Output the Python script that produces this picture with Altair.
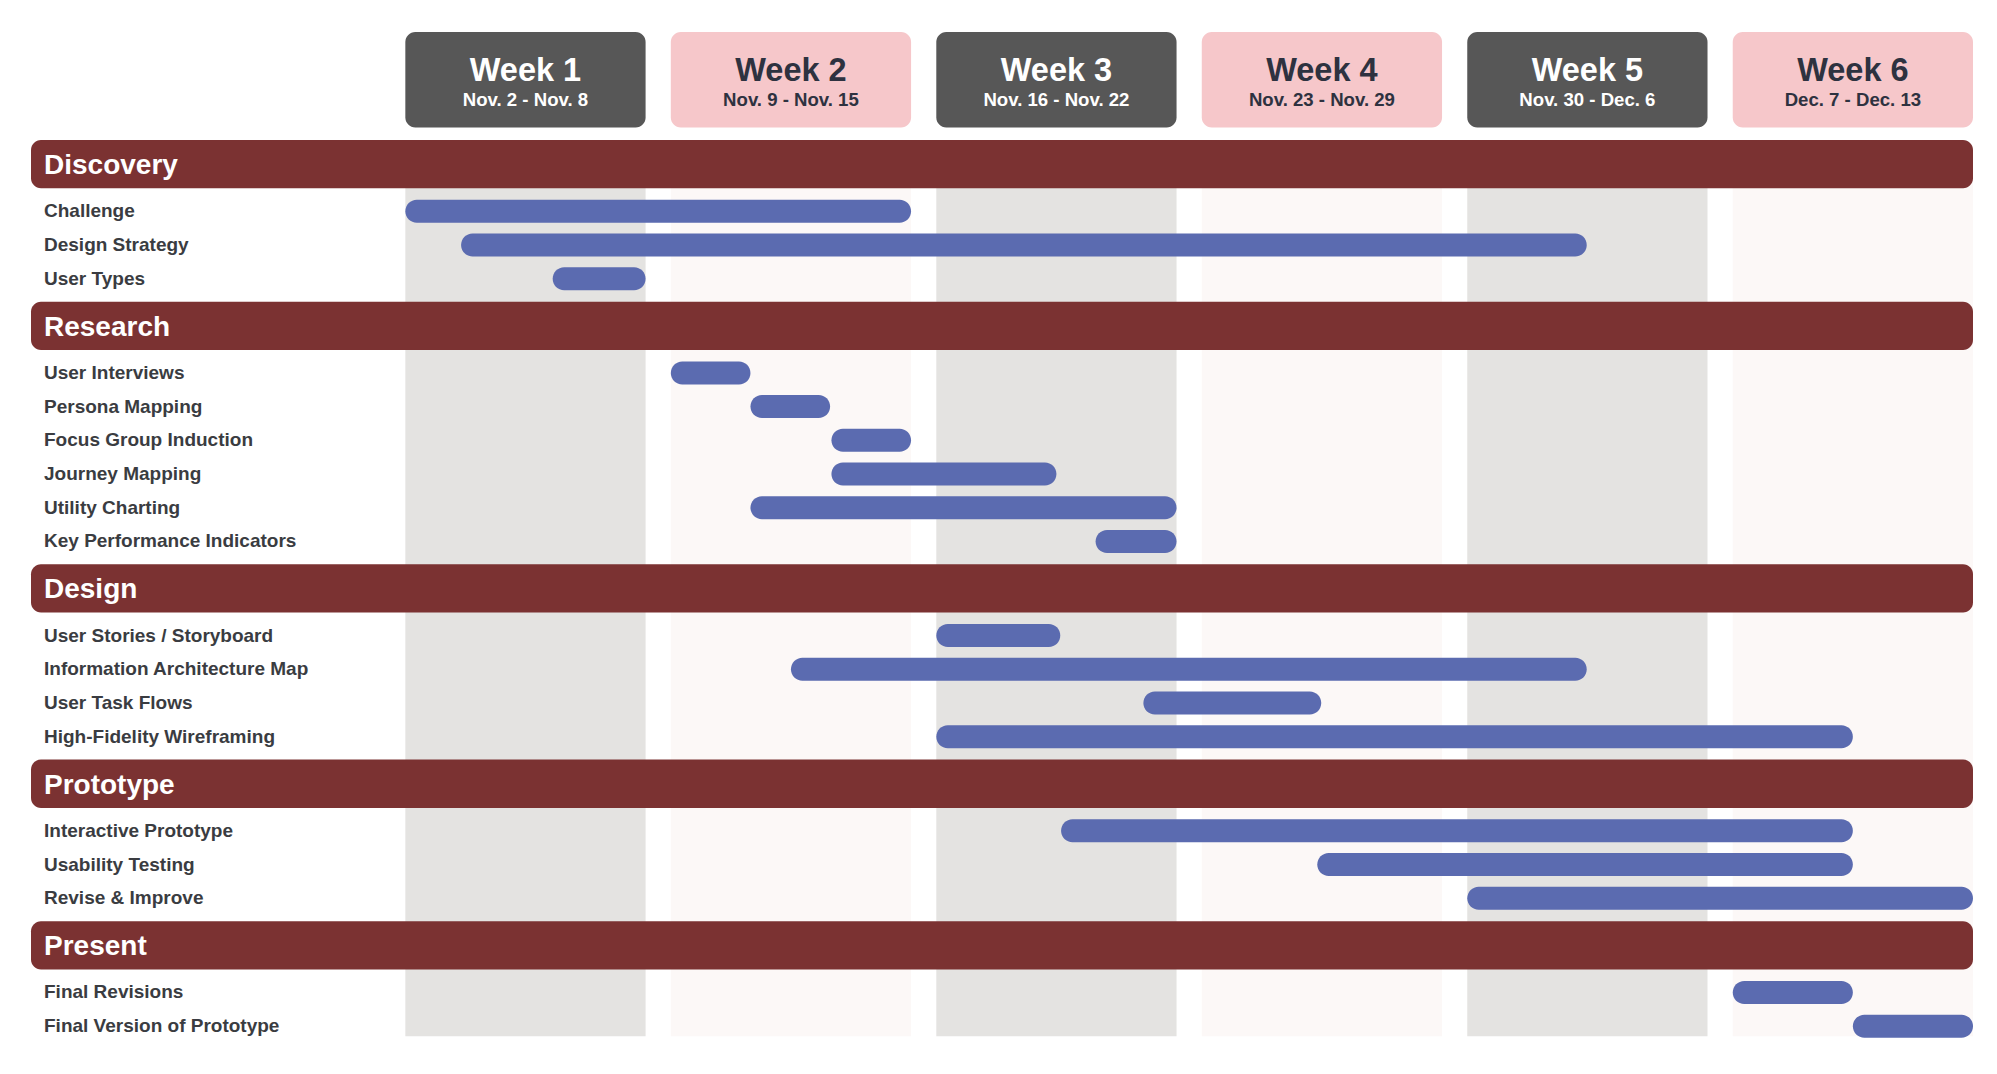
import altair as alt
import pandas as pd

# ---------------- data ----------------
WEEKS = ["Week 1", "Week 2", "Week 3", "Week 4", "Week 5", "Week 6"]
WEEK_DATES = ["Nov. 2 - Nov. 8", "Nov. 9 - Nov. 15", "Nov. 16 - Nov. 22",
              "Nov. 23 - Nov. 29", "Nov. 30 - Dec. 6", "Dec. 7 - Dec. 13"]

SECTIONS = ["Discovery", "Research", "Design", "Prototype", "Present"]

TASKS = [
    "Challenge", "Design Strategy", "User Types",
    "User Interviews", "Persona Mapping", "Focus Group Induction",
    "Journey Mapping", "Utility Charting", "Key Performance Indicators",
    "User Stories / Storyboard", "Information Architecture Map",
    "User Task Flows", "High-Fidelity Wireframing",
    "Interactive Prototype", "Usability Testing", "Revise & Improve",
    "Final Revisions", "Final Version of Prototype",
]
TASK_SECTION = [
    "Discovery", "Discovery", "Discovery",
    "Research", "Research", "Research", "Research", "Research", "Research",
    "Design", "Design", "Design", "Design",
    "Prototype", "Prototype", "Prototype",
    "Present", "Present",
]
# start / end, measured in weeks from the start of Week 1
TASK_START = [0.0, 0.21, 0.555,
              1.0, 1.3, 1.605, 1.605, 1.3, 2.6,
              2.0, 1.4525, 2.78, 2.0,
              2.47, 3.435, 4.0,
              5.0, 5.4525]
TASK_END = [1.905, 4.45, 0.905,
            1.3, 1.6, 1.905, 2.4525, 2.905, 2.905,
            2.467, 4.45, 3.45, 5.4525,
            5.4525, 5.4525, 5.905,
            5.4525, 5.905]

# ---------------- layout / style ----------------
FONT = "Liberation Sans"
PLOT_W, PLOT_H = 1942, 1020
PITCH = 33.7            # px per task row
HEADER_ROWS = 1.795     # header slot height in rows
BOX_FRAC = 0.905        # share of a week column covered by its box
LABEL_SPACE = 1.41      # weeks of space left of Week 1 for labels
X_DOMAIN = [-LABEL_SPACE, len(WEEKS) - 1 + BOX_FRAC]
Y_DOMAIN = [0, PLOT_H / PITCH]
FIRST_SLOT = 3.025
BAR_H = 23 / PITCH
HEAD_H = 48.3 / PITCH

DARK_BOX, PINK_BOX = "#575757", "#f6c7ca"
GRAY_BAND, PINK_BAND = "#e4e3e1", "#fcf8f7"
HEAD_COLOR = "#7b3232"
BAR_COLOR = "#5b6bb0"
LABEL_COLOR = "#3a3c41"
PINK_TEXT = "#2e3240"

xs = alt.Scale(domain=X_DOMAIN, nice=False, zero=False)
ys = alt.Scale(domain=Y_DOMAIN, nice=False, zero=False, reverse=True)

# ---------------- derived tables ----------------
cursor = FIRST_SLOT
head_rows, task_rows = [], []
for s in SECTIONS:
    yc = cursor + HEADER_ROWS / 2
    head_rows.append({"section": s, "x0": X_DOMAIN[0], "x1": X_DOMAIN[1],
                      "y0": yc - HEAD_H / 2, "y1": yc + HEAD_H / 2, "yc": yc})
    cursor += HEADER_ROWS
    for t, sec, a, b in zip(TASKS, TASK_SECTION, TASK_START, TASK_END):
        if sec == s:
            yc_t = cursor + 0.5
            task_rows.append({"task": t, "start": a, "end": b, "lx": X_DOMAIN[0],
                              "y0": yc_t - BAR_H / 2, "y1": yc_t + BAR_H / 2,
                              "yc": yc_t})
            cursor += 1
heads = pd.DataFrame(head_rows)
tasks = pd.DataFrame(task_rows)

band_top = head_rows[0]["yc"]
band_bottom = cursor - 0.2
weeks = pd.DataFrame({
    "week": WEEKS,
    "dates": WEEK_DATES,
    "x0": [i for i in range(len(WEEKS))],
    "x1": [i + BOX_FRAC for i in range(len(WEEKS))],
    "xc": [i + BOX_FRAC / 2 for i in range(len(WEEKS))],
    "shade": ["dark" if i % 2 == 0 else "light" for i in range(len(WEEKS))],
    "box_top": 0.0,
    "box_bottom": 95.6 / PITCH,
    "title_y": 49.3 / PITCH,
    "sub_y": 74.2 / PITCH,
    "band_top": band_top,
    "band_bottom": band_bottom,
})

is_dark = alt.datum.shade == "dark"

bands = alt.Chart(weeks).mark_rect().encode(
    x=alt.X("x0:Q", scale=xs, axis=None), x2="x1:Q",
    y=alt.Y("band_top:Q", scale=ys, axis=None), y2="band_bottom:Q",
    color=alt.condition(is_dark, alt.value(GRAY_BAND), alt.value(PINK_BAND)),
)

boxes = alt.Chart(weeks).mark_rect(cornerRadius=10).encode(
    x=alt.X("x0:Q", scale=xs, axis=None), x2="x1:Q",
    y=alt.Y("box_top:Q", scale=ys, axis=None), y2="box_bottom:Q",
    color=alt.condition(is_dark, alt.value(DARK_BOX), alt.value(PINK_BOX)),
)

box_titles = alt.Chart(weeks).mark_text(
    font=FONT, fontSize=32.5, fontWeight="bold", align="center", baseline="alphabetic"
).encode(
    x=alt.X("xc:Q", scale=xs, axis=None),
    y=alt.Y("title_y:Q", scale=ys, axis=None),
    text="week:N",
    color=alt.condition(is_dark, alt.value("#ffffff"), alt.value(PINK_TEXT)),
)

box_dates = alt.Chart(weeks).mark_text(
    font=FONT, fontSize=18.6, fontWeight="bold", align="center", baseline="alphabetic"
).encode(
    x=alt.X("xc:Q", scale=xs, axis=None),
    y=alt.Y("sub_y:Q", scale=ys, axis=None),
    text="dates:N",
    color=alt.condition(is_dark, alt.value("#ffffff"), alt.value(PINK_TEXT)),
)

head_bars = alt.Chart(heads).mark_rect(cornerRadius=10, color=HEAD_COLOR).encode(
    x=alt.X("x0:Q", scale=xs, axis=None), x2="x1:Q",
    y=alt.Y("y0:Q", scale=ys, axis=None), y2="y1:Q",
)

head_text = alt.Chart(heads).mark_text(
    font=FONT, fontSize=28, fontWeight="bold", align="left", baseline="alphabetic",
    dx=13, dy=10, color="#ffffff"
).encode(
    x=alt.X("x0:Q", scale=xs, axis=None),
    y=alt.Y("yc:Q", scale=ys, axis=None),
    text="section:N",
)

task_bars = alt.Chart(tasks).mark_rect(cornerRadius=11.5, color=BAR_COLOR).encode(
    x=alt.X("start:Q", scale=xs, axis=None), x2="end:Q",
    y=alt.Y("y0:Q", scale=ys, axis=None), y2="y1:Q",
    tooltip=["task:N"],
)

task_text = alt.Chart(tasks).mark_text(
    font=FONT, fontSize=19, fontWeight="bold", align="left", baseline="alphabetic",
    dx=13, dy=6, color=LABEL_COLOR
).encode(
    x=alt.X("lx:Q", scale=xs, axis=None),
    y=alt.Y("yc:Q", scale=ys, axis=None),
    text="task:N",
)

chart = alt.layer(
    bands, boxes, box_titles, box_dates, head_bars, head_text, task_bars, task_text
).properties(
    width=PLOT_W, height=PLOT_H,
    padding={"left": 23, "top": 24, "right": 0, "bottom": 0},
    autosize=alt.AutoSizeParams(type="none"),
    background="#ffffff",
).configure_view(stroke=None)

chart.save("out.html", embed_options={"renderer": "svg", "actions": False})
